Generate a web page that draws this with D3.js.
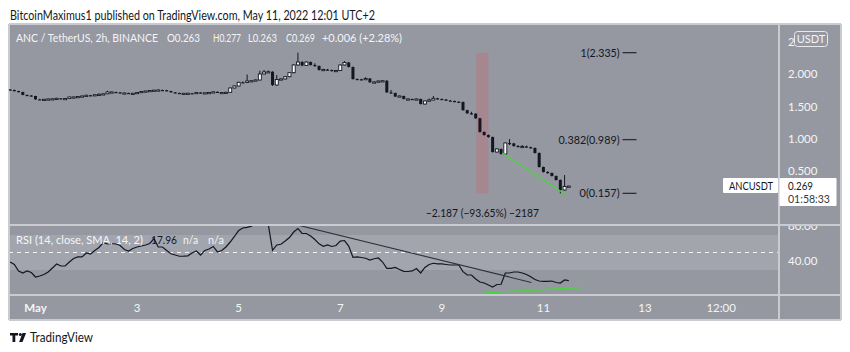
<!DOCTYPE html>
<html><head><meta charset="utf-8">
<script src="https://cdn.jsdelivr.net/npm/d3@7"></script>
<style>
body{margin:0;background:#fff;}
svg{display:block;font-family:Lato,"DejaVu Sans",sans-serif;}
</style>
</head><body>
<svg id="c" width="850" height="352"></svg>
<script>
// ---------- DATA ----------
const startTime = Date.UTC(2022, 3, 30, 12); // first visible 2h candle
const stepHours = 2;
const firstOpen = 1.765;
const closes = [1.757,1.741,1.726,1.680,1.672,1.664,1.613,1.610,1.613,1.618,
1.621,1.628,1.624,1.625,1.649,1.649,1.656,1.664,1.676,1.672,
1.684,1.690,1.698,1.726,1.726,1.720,1.711,1.711,1.706,1.706,
1.718,1.734,1.741,1.749,1.754,1.757,1.754,1.741,1.721,1.711,
1.706,1.706,1.707,1.706,1.718,1.709,1.714,1.718,1.729,1.716,
1.718,1.721,1.788,1.819,1.876,1.873,1.896,1.901,1.912,2.005,
2.036,2.040,1.834,1.920,1.928,1.963,2.025,2.144,2.190,2.136,
2.190,2.144,2.129,2.067,2.074,2.067,2.051,2.059,2.144,2.183,
2.113,1.927,1.923,1.916,1.935,1.876,1.881,1.896,1.901,1.721,
1.711,1.656,1.664,1.618,1.618,1.610,1.618,1.540,1.587,1.602,
1.628,1.618,1.610,1.594,1.587,1.576,1.571,1.445,1.396,1.390,
1.319,1.107,1.060,1.029,0.797,0.844,0.766,0.937,0.930,0.890,
0.880,0.884,0.872,0.860,0.782,0.565,0.488,0.472,0.426,0.364,
0.209,0.263,0.269];
const highs = [1.772,1.763,1.746,1.731,1.688,1.679,1.668,1.620,1.619,1.624,
1.627,1.636,1.633,1.631,1.655,1.656,1.662,1.670,1.683,1.681,
1.690,1.705,1.704,1.745,1.733,1.731,1.724,1.718,1.715,1.712,
1.724,1.740,1.747,1.755,1.760,1.764,1.762,1.759,1.745,1.726,
1.716,1.712,1.713,1.712,1.724,1.722,1.720,1.724,1.735,1.733,
1.724,1.728,1.795,1.826,1.884,1.890,1.997,1.910,1.920,2.056,
2.067,2.059,2.046,1.989,1.940,1.972,2.035,2.155,2.335,2.205,
2.200,2.198,2.170,2.135,2.085,2.083,2.073,2.068,2.152,2.205,
2.190,2.120,1.935,1.930,1.955,1.942,1.890,1.904,1.910,1.908,
1.757,1.716,1.672,1.670,1.626,1.624,1.625,1.624,1.595,1.625,
1.664,1.636,1.625,1.616,1.600,1.593,1.582,1.578,1.452,1.420,
1.398,1.325,1.115,1.068,1.036,0.852,0.850,0.945,0.998,0.938,
0.905,0.905,0.895,0.880,0.866,0.790,0.572,0.500,0.480,0.433,
0.372,0.440,0.277];
const lows = [1.750,1.736,1.720,1.675,1.666,1.658,1.605,1.603,1.604,1.608,
1.612,1.616,1.618,1.619,1.620,1.642,1.644,1.651,1.660,1.667,
1.668,1.680,1.686,1.694,1.719,1.714,1.705,1.705,1.700,1.700,
1.702,1.713,1.729,1.736,1.744,1.749,1.748,1.736,1.716,1.706,
1.700,1.700,1.701,1.700,1.702,1.703,1.704,1.709,1.713,1.711,
1.711,1.713,1.716,1.782,1.813,1.866,1.867,1.889,1.895,1.905,
1.998,2.028,1.820,1.826,1.912,1.920,1.955,2.015,2.130,2.125,
2.128,2.135,2.118,2.058,2.058,2.058,2.043,2.044,2.050,2.136,
2.105,1.918,1.915,1.908,1.910,1.868,1.870,1.875,1.890,1.712,
1.702,1.648,1.650,1.610,1.610,1.602,1.604,1.532,1.534,1.580,
1.596,1.611,1.603,1.587,1.580,1.569,1.564,1.437,1.388,1.380,
1.310,1.098,1.050,1.018,0.788,0.790,0.757,0.758,0.905,0.880,
0.872,0.873,0.864,0.850,0.774,0.556,0.479,0.462,0.418,0.355,
0.157,0.200,0.263];
const rsi = [39.1,36.3,28.9,26.6,28.9,27.1,22.0,23.1,24.9,27.7,
32.3,36.9,34.6,34.6,39.1,43.1,44.9,44.9,49.4,48.3,
52.3,55.7,61.2,59.7,60.3,59.7,58.0,53.4,51.7,54.6,
56.3,57.4,58.6,60.3,65.8,56.3,56.3,52.3,48.6,47.1,
45.7,45.8,46.2,49.4,51.7,47.1,52.3,54.0,56.9,50.6,
52.3,56.3,62.0,68.3,75.1,78.0,78.8,80.1,82.5,85.0,
86.0,82.0,52.5,58.6,59.4,63.1,67.1,73.4,77.4,71.7,
71.7,68.9,64.9,59.9,57.1,58.6,56.9,58.0,63.1,63.7,
57.4,44.5,44.9,44.3,43.4,41.4,42.9,43.7,39.1,31.9,
31.9,32.9,30.6,28.5,28.3,28.9,31.7,26.6,32.9,36.3,
37.7,37.1,36.9,36.3,35.7,35.7,35.7,28.1,24.3,24.3,
19.7,16.3,15.1,12.9,10.6,13.4,13.7,26.6,26.6,27.7,
27.7,26.6,24.9,22.3,19.1,17.4,16.9,16.9,17.4,15.7,
15.1,18.6,17.96];

const priceTicks = [0.5, 1.0, 1.5, 2.0, 2.5];
const rsiTicks = [40, 80];
const timeTickDates = [Date.UTC(2022,4,1),Date.UTC(2022,4,3),Date.UTC(2022,4,5),Date.UTC(2022,4,7),
  Date.UTC(2022,4,9),Date.UTC(2022,4,11),Date.UTC(2022,4,13),Date.UTC(2022,4,14,12)];
const timeTickLabels = ["May","3","5","7","9","11","13","12:00"];

const fibRatios = ["1","0.382","0"];
const fibValues = [2.335, 0.989, 0.157];
const fibTimes = [Date.UTC(2022,4,12,13,24), Date.UTC(2022,4,12,20,0)];

const rangeTimes = [Date.UTC(2022,4,9,16,18), Date.UTC(2022,4,9,22,0)];
const rangeValues = [2.335, 0.157];
const rangeLabel = "\u22122.187 (\u221293.65%) \u22122187";

const priceTrendTimes = [Date.UTC(2022,4,10,4,36), Date.UTC(2022,4,11,10,54)];
const priceTrendValues = [0.782, 0.132];
const rsiTrendTimes = [Date.UTC(2022,4,6,4,6), Date.UTC(2022,4,10,18,18)];
const rsiTrendValues = [81.2, 15.8];
const rsiSupportTimes = [Date.UTC(2022,4,9,20,6), Date.UTC(2022,4,11,18,30)];
const rsiSupportValues = [4.0, 10.0];

// ---------- LAYOUT ----------
const L = 9, R = 841, plotR = 779, T = 24, priceB = 225, rsiB = 295, B = 320;
const BG = "#9598a1", BAND = "#a2a5ad", LINE = "#c9cbd0", TXT = "#f4f5f7", DARK = "#131722";

const svg = d3.select("#c");
const x = d3.scaleUtc().domain([Date.UTC(2022,4,1), Date.UTC(2022,4,13)]).range([35.5, 645.0]);
const y = d3.scaleLinear().domain([0, 2]).range([203.5, 74.3]);
const yr = d3.scaleLinear().domain([30, 70]).range([270, 235]);

const candles = closes.map((c, i) => ({
  t: startTime + i * stepHours * 3600e3,
  o: i === 0 ? firstOpen : closes[i - 1],
  c, h: highs[i], l: lows[i]
}));

function fitText(g, x0, y0, str, size, len, fill, weight) {
  const t = g.append("text").attr("x", x0).attr("y", y0).attr("dy", "0.35em")
    .attr("font-size", size).attr("fill", fill).text(str);
  if (weight) t.attr("font-weight", weight);
  if (len) t.attr("textLength", len).attr("lengthAdjust", "spacingAndGlyphs");
  return t;
}

// header text
fitText(svg, 10, 15, "BitcoinMaximus1 published on TradingView.com, May 11, 2022 12:01 UTC+2", 13, 365, DARK);

// frame background
svg.append("rect").attr("x", L).attr("y", T).attr("width", R - L).attr("height", B - T).attr("fill", BG);

const defs = svg.append("defs");
defs.append("clipPath").attr("id", "cp").append("rect").attr("x", L).attr("y", T).attr("width", plotR - L).attr("height", priceB - T);
defs.append("clipPath").attr("id", "cr").append("rect").attr("x", L).attr("y", priceB + 1).attr("width", plotR - L).attr("height", rsiB - priceB - 1);
defs.append("clipPath").attr("id", "cra").append("rect").attr("x", plotR + 1).attr("y", priceB + 1).attr("width", R - plotR - 1).attr("height", rsiB - priceB - 1);
defs.append("clipPath").attr("id", "cpa").append("rect").attr("x", plotR + 1).attr("y", T + 1).attr("width", 14).attr("height", 30);

// RSI band
svg.append("rect").attr("x", L).attr("y", yr(70)).attr("width", plotR - L).attr("height", yr(30) - yr(70)).attr("fill", BAND);
svg.append("line").attr("x1", L).attr("x2", plotR).attr("y1", yr(50)).attr("y2", yr(50))
  .attr("stroke", "#f2f3f5").attr("stroke-dasharray", "4,4").attr("stroke-width", 1);

// borders
const borders = svg.append("g").attr("stroke", LINE).attr("stroke-width", 1.2).attr("shape-rendering", "crispEdges");
[[L, T, R, T], [L, priceB, R, priceB], [L, rsiB, R, rsiB], [L, B, R, B], [plotR, T, plotR, B], [R, T, R, B], [L, T, L, B]]
  .forEach(d => borders.append("line").attr("x1", d[0]).attr("y1", d[1]).attr("x2", d[2]).attr("y2", d[3]));

// range box
const pg = svg.append("g").attr("clip-path", "url(#cp)");
pg.append("rect").attr("x", x(rangeTimes[0])).attr("y", y(rangeValues[0]))
  .attr("width", x(rangeTimes[1]) - x(rangeTimes[0])).attr("height", y(rangeValues[1]) - y(rangeValues[0]))
  .attr("fill", "#a6868f");

// candles
const cg = pg.append("g");
const bw = 3;
cg.selectAll("line.w").data(candles).join("line").attr("class", "w")
  .attr("x1", d => x(d.t)).attr("x2", d => x(d.t))
  .attr("y1", d => y(d.h)).attr("y2", d => y(d.l))
  .attr("stroke", DARK).attr("stroke-width", 1);
cg.selectAll("rect.b").data(candles).join("rect").attr("class", "b")
  .attr("x", d => x(d.t) - bw / 2)
  .attr("y", d => y(Math.max(d.o, d.c)))
  .attr("width", bw)
  .attr("height", d => Math.max(1.2, Math.abs(y(d.o) - y(d.c))))
  .attr("fill", d => d.c >= d.o ? "#ffffff" : DARK)
  .attr("stroke", DARK).attr("stroke-width", d => d.c >= d.o ? 0.9 : 0);

// price trend (green)
pg.append("line").attr("x1", x(priceTrendTimes[0])).attr("y1", y(priceTrendValues[0]))
  .attr("x2", x(priceTrendTimes[1])).attr("y2", y(priceTrendValues[1]))
  .attr("stroke", "#4cd43f").attr("stroke-width", 1.3);

// fib levels
const fibLens = [39, 61, 40];
fibValues.forEach((v, i) => {
  svg.append("line").attr("x1", x(fibTimes[0])).attr("x2", x(fibTimes[1])).attr("y1", y(v)).attr("y2", y(v))
    .attr("stroke", "#2a2e39").attr("stroke-width", 1.3);
  fitText(svg, x(fibTimes[0]) - 3 - fibLens[i], y(v), `${fibRatios[i]}(${v.toFixed(3)})`, 11.5, fibLens[i], DARK);
});

// range label
svg.append("text").attr("x", (x(rangeTimes[0]) + x(rangeTimes[1])) / 2).attr("y", 213).attr("dy", "0.35em")
  .attr("text-anchor", "middle").attr("fill", DARK).attr("font-size", 11.5)
  .attr("textLength", 113).attr("lengthAdjust", "spacingAndGlyphs").text(rangeLabel);

// price axis
svg.append("g").selectAll("text").data(priceTicks.filter(d => d < 2.4)).join("text")
  .attr("x", 788).attr("y", d => y(d)).attr("dy", "0.35em")
  .attr("fill", TXT).attr("font-size", 11.5).text(d => d.toFixed(3));
svg.append("g").attr("clip-path", "url(#cpa)").selectAll("text").data(priceTicks.filter(d => d >= 2.4)).join("text")
  .attr("x", 788).attr("y", d => y(d)).attr("dy", "0.35em")
  .attr("fill", TXT).attr("font-size", 11.5).text(d => d.toFixed(3));

// USDT badge
svg.append("rect").attr("x", 794.5).attr("y", 31.5).attr("width", 33).attr("height", 15).attr("rx", 3)
  .attr("fill", BG).attr("stroke", "#e8e9ec").attr("stroke-width", 1);
svg.append("text").attr("x", 811).attr("y", 39).attr("dy", "0.35em").attr("text-anchor", "middle")
  .attr("fill", TXT).attr("font-size", 11).text("USDT");

// last price labels
const last = candles[candles.length - 1];
svg.append("rect").attr("x", 723).attr("y", 178).attr("width", 55).attr("height", 15).attr("fill", "#ffffff").attr("rx", 1);
fitText(svg, 729, 185.5, "ANCUSDT", 11.5, 44, DARK);
svg.append("rect").attr("x", 779.5).attr("y", 178).attr("width", 57).attr("height", 28).attr("fill", "#ffffff").attr("rx", 1);
fitText(svg, 788, 186, last.c.toFixed(3), 11.5, 25, DARK);
fitText(svg, 788, 199, "01:58:33", 11.5, 42, "#333a45");

// legend
const lgX = [16, 167, 213, 248, 286, 322];
const lgW = [142, 33, 28, 29, 29, 80];
const lgT = ["ANC / TetherUS, 2h, BINANCE", "O" + last.o.toFixed(3), "H" + last.h.toFixed(3),
  "L" + last.l.toFixed(3), "C" + last.c.toFixed(3), "+0.006 (+2.28%)"];
lgT.forEach((s, i) => fitText(svg, lgX[i], 38, s, 10.7, lgW[i], TXT));

// RSI pane
const rg = svg.append("g").attr("clip-path", "url(#cr)");
rg.append("path").datum(candles.map((d, i) => [d.t, rsi[i]]))
  .attr("d", d3.line().x(d => x(d[0])).y(d => yr(d[1])))
  .attr("fill", "none").attr("stroke", DARK).attr("stroke-width", 1.2);
rg.append("line").attr("x1", x(rsiTrendTimes[0])).attr("y1", yr(rsiTrendValues[0]))
  .attr("x2", x(rsiTrendTimes[1])).attr("y2", yr(rsiTrendValues[1]))
  .attr("stroke", "#2e323c").attr("stroke-width", 1.1);
rg.append("line").attr("x1", x(rsiSupportTimes[0])).attr("y1", yr(rsiSupportValues[0]))
  .attr("x2", x(rsiSupportTimes[1])).attr("y2", yr(rsiSupportValues[1]))
  .attr("stroke", "#4cd43f").attr("stroke-width", 1.3);

fitText(svg, 16, 240, "RSI (14, close, SMA, 14, 2)", 11.2, 127, TXT);
fitText(svg, 151, 240, rsi[rsi.length - 1].toFixed(2), 11.5, 26, DARK);
fitText(svg, 183, 240, "n/a", 11.5, 15, TXT);
fitText(svg, 208, 240, "n/a", 11.5, 16, TXT);

svg.append("g").attr("clip-path", "url(#cra)").selectAll("text").data(rsiTicks).join("text")
  .attr("x", 788).attr("y", d => yr(d)).attr("dy", "0.35em").attr("fill", TXT).attr("font-size", 11.5)
  .text(d => d.toFixed(2));

// time axis
svg.append("g").selectAll("text").data(timeTickDates).join("text")
  .attr("x", d => x(d)).attr("y", 308).attr("dy", "0.35em").attr("text-anchor", "middle")
  .attr("fill", TXT).attr("font-size", 11.5).attr("font-weight", (d, i) => i === 0 ? 700 : 400)
  .text((d, i) => timeTickLabels[i]);

// footer logo
const fg = svg.append("g").attr("fill", DARK);
fg.append("path").attr("d", "M10,333 h8 v2.5 h-2.7 v6.5 h-2.8 v-6.5 h-2.5 z");
fg.append("circle").attr("cx", 20.3).attr("cy", 334.4).attr("r", 1.5);
fg.append("path").attr("d", "M22.5,333 h3.6 l-3.6,9 h-3.4 z");
fitText(svg, 30, 337.5, "TradingView", 13, 63, DARK);
</script>
</body></html>
